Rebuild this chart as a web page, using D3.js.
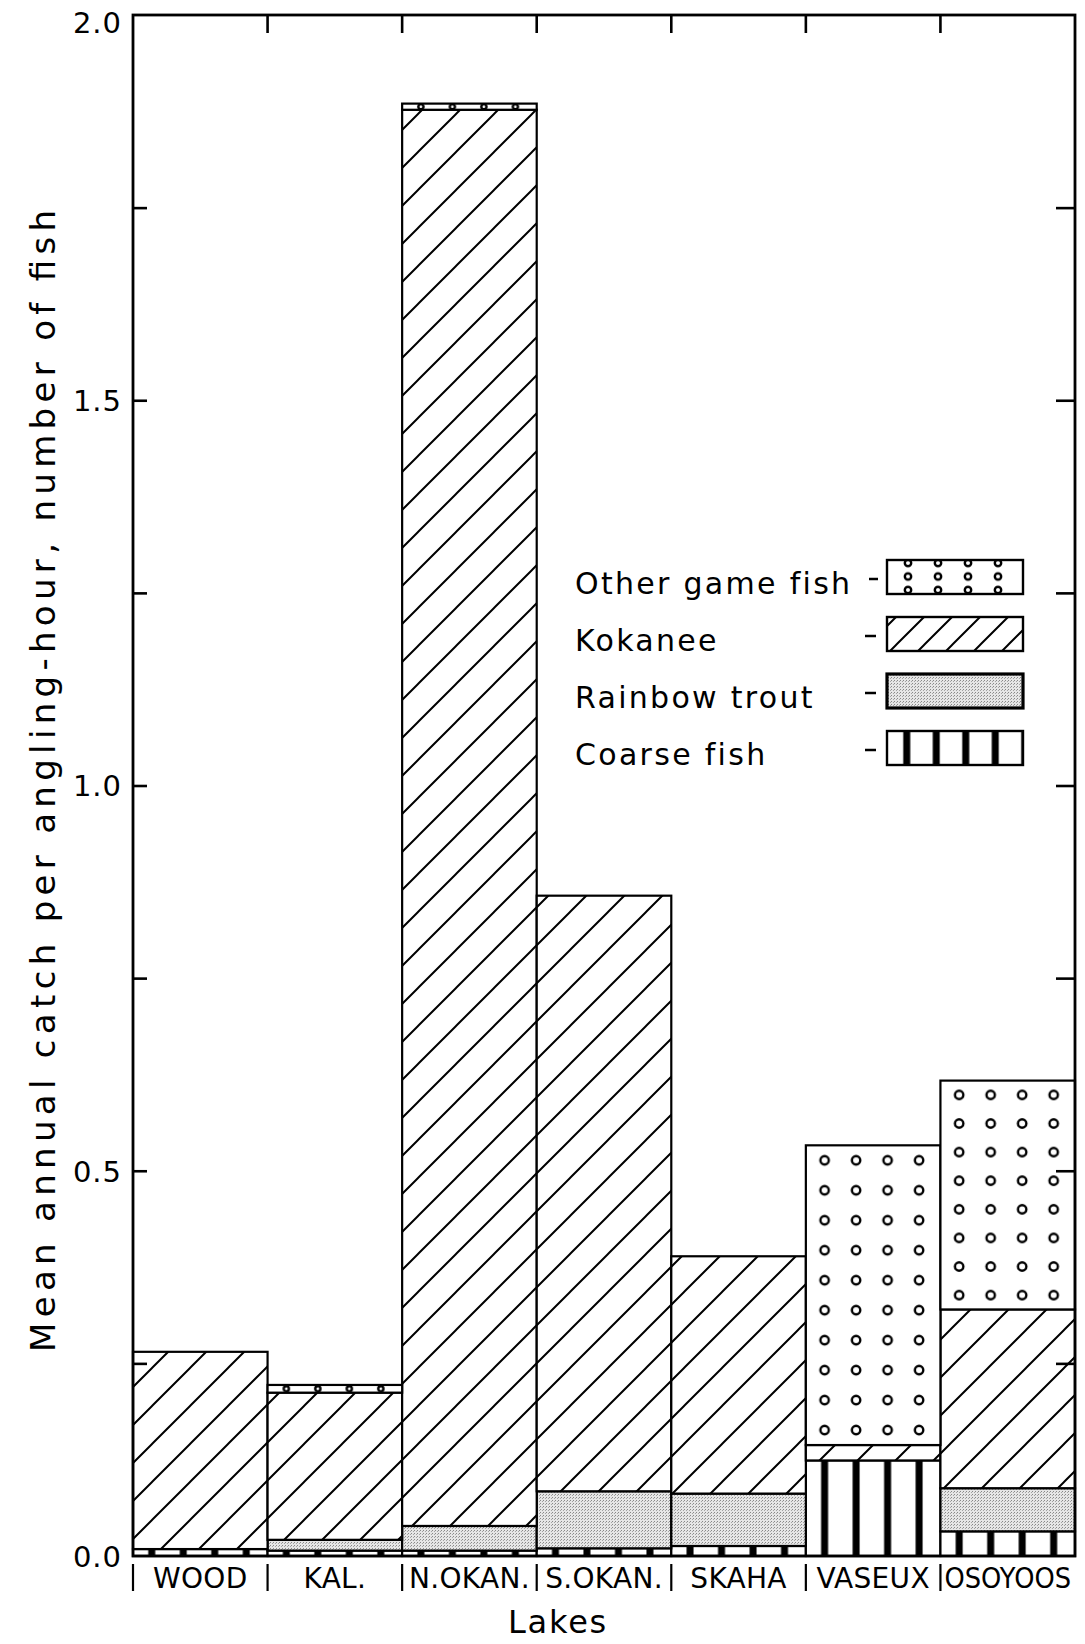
<!DOCTYPE html>
<html><head><meta charset="utf-8">
<script src="https://cdn.jsdelivr.net/npm/d3@7"></script>
<style>html,body{margin:0;padding:0;background:#fff}svg{display:block}</style>
</head><body>
<svg id="chart" width="1085" height="1644"></svg>
<script>
// ---------------- data ----------------
const categories = ["WOOD", "KAL.", "N.OKAN.", "S.OKAN.", "SKAHA", "VASEUX", "OSOYOOS"];
const coarseFish    = [0.009, 0.007, 0.007, 0.010, 0.013, 0.124, 0.032];
const rainbowTrout  = [0.000, 0.014, 0.032, 0.074, 0.068, 0.000, 0.056];
const kokanee       = [0.256, 0.191, 1.838, 0.773, 0.308, 0.020, 0.232];
const otherGameFish = [0.000, 0.010, 0.008, 0.000, 0.000, 0.389, 0.297];
const seriesKeys = ["coarse", "rainbow", "kokanee", "other"];
const legendKeys = ["other", "kokanee", "rainbow", "coarse"];
const legendLabels = ["Other game fish", "Kokanee", "Rainbow trout", "Coarse fish"];
const yLabelTicks = [0, 0.5, 1.0, 1.5, 2.0];
const yMinorTicks = [0.25, 0.5, 0.75, 1.0, 1.25, 1.5, 1.75];
const yAxisTitle = "Mean annual catch per angling-hour, number of fish";
const xAxisTitle = "Lakes";

// ---------------- layout ----------------
const FONT = "DejaVu Sans, Liberation Sans, sans-serif";
const pLeft = 133, pRight = 1075, pTop = 15, pBottom = 1556;
const svg = d3.select("#chart");
const x = d3.scaleBand().domain(categories).range([pLeft, pRight]).padding(0);
const y = d3.scaleLinear().domain([0, 2]).range([pBottom, pTop]);
const bw = x.bandwidth();

const table = categories.map((c, i) => ({
  lake: c, coarse: coarseFish[i], rainbow: rainbowTrout[i],
  kokanee: kokanee[i], other: otherGameFish[i]
}));
const layers = d3.stack().keys(seriesKeys)(table);

svg.append("rect").attr("width", 1085).attr("height", 1644).attr("fill", "#fff");
const defs = svg.append("defs");

// kokanee hatch
function hatch(id, s) {
  const p = defs.append("pattern").attr("id", id).attr("patternUnits", "userSpaceOnUse")
    .attr("width", s).attr("height", s);
  p.append("rect").attr("width", s).attr("height", s).attr("fill", "#fff");
  p.append("path").attr("d", `M-4,4 L4,-4 M0,${s} L${s},0 M${s-4},${s+4} L${s+4},${s-4}`)
    .attr("stroke", "#000").attr("stroke-width", 2);
}
hatch("hatch", 38);
hatch("hatchLeg", 28);

// rainbow stipple
{
  const p = defs.append("pattern").attr("id", "stipple").attr("patternUnits", "userSpaceOnUse")
    .attr("width", 3).attr("height", 3);
  p.append("rect").attr("width", 3).attr("height", 3).attr("fill", "#e6e6e6");
  p.append("rect").attr("x", 0).attr("y", 0).attr("width", 1).attr("height", 1).attr("fill", "#888");
  p.append("rect").attr("x", 2).attr("y", 1).attr("width", 1).attr("height", 1).attr("fill", "#a4a4a4");
}

function circlePattern(id, px, py, w, h, r) {
  const p = defs.append("pattern").attr("id", id).attr("patternUnits", "userSpaceOnUse")
    .attr("x", px).attr("y", py).attr("width", w).attr("height", h);
  p.append("rect").attr("width", w).attr("height", h).attr("fill", "#fff");
  p.append("circle").attr("cx", w / 2).attr("cy", h / 2).attr("r", r)
    .attr("fill", "#fff").attr("stroke", "#000").attr("stroke-width", 2.4);
}
function stripePattern(id, px, w, sw) {
  const p = defs.append("pattern").attr("id", id).attr("patternUnits", "userSpaceOnUse")
    .attr("x", px).attr("y", 0).attr("width", w).attr("height", 10);
  p.append("rect").attr("width", w).attr("height", 10).attr("fill", "#fff");
  p.append("rect").attr("x", w / 2 - sw / 2).attr("width", sw).attr("height", 10).attr("fill", "#000");
}

// per-bar patterns for other game fish & coarse fish
const otherLayer = layers.find(l => l.key === "other");
categories.forEach((c, i) => {
  const d = otherLayer[i];
  const yt = y(d[1]), h = Math.max(1, y(d[0]) - y(d[1]));
  const rows = Math.max(1, Math.round(h / 29.5));
  circlePattern(`other-${i}`, x(c) + 3, yt, 31.5, h / rows, h > 15 ? 4.2 : 2.6);
  stripePattern(`coarse-${i}`, x(c) + 3, 31.5, 7);
});

function fillFor(key, i) {
  if (key === "kokanee") return "url(#hatch)";
  if (key === "rainbow") return "url(#stipple)";
  if (key === "other") return `url(#other-${i})`;
  return `url(#coarse-${i})`;
}

// ---------------- bars ----------------
const gBars = svg.append("g");
layers.forEach(layer => {
  gBars.selectAll(null)
    .data(layer.map((d, i) => ({ d, i, key: layer.key })).filter(o => o.d[1] - o.d[0] > 0))
    .join("rect")
    .attr("x", o => x(categories[o.i]))
    .attr("y", o => y(o.d[1]))
    .attr("width", bw)
    .attr("height", o => y(o.d[0]) - y(o.d[1]))
    .attr("fill", o => fillFor(o.key, o.i))
    .attr("stroke", "#000")
    .attr("stroke-width", 2.2);
});

// ---------------- frame & ticks ----------------
svg.append("rect").attr("x", pLeft).attr("y", pTop).attr("width", pRight - pLeft).attr("height", pBottom - pTop)
  .attr("fill", "none").attr("stroke", "#000").attr("stroke-width", 2.8);

const leftTicks = svg.append("g").attr("transform", `translate(${pLeft},0)`)
  .call(d3.axisRight(y).tickValues(yMinorTicks).tickSize(14).tickFormat(""));
const rightTicks = svg.append("g").attr("transform", `translate(${pRight},0)`)
  .call(d3.axisLeft(y).tickValues(yMinorTicks).tickSize(19).tickFormat(""));
[leftTicks, rightTicks].forEach(g => {
  g.select(".domain").remove();
  g.selectAll("line").attr("stroke", "#000").attr("stroke-width", 2.6);
});

// y labels
const yLab = svg.append("g").attr("transform", `translate(${pLeft},0)`)
  .call(d3.axisLeft(y).tickValues(yLabelTicks).tickSize(0).tickPadding(11).tickFormat(d3.format(".1f")));
yLab.select(".domain").remove();
yLab.selectAll("text").attr("font-size", 29).attr("font-family", FONT).attr("fill", "#000")
  .attr("letter-spacing", 1)
  .attr("dy", d => d === 2 ? "0.62em" : "0.36em");

// top ticks at lake boundaries
svg.append("g").selectAll("line").data(categories.slice(1)).join("line")
  .attr("x1", c => x(c)).attr("x2", c => x(c))
  .attr("y1", pTop).attr("y2", pTop + 18)
  .attr("stroke", "#000").attr("stroke-width", 2.6);

// bottom separators
svg.append("g").selectAll("line").data(categories).join("line")
  .attr("x1", c => x(c)).attr("x2", c => x(c))
  .attr("y1", pBottom + 8).attr("y2", pBottom + 35)
  .attr("stroke", "#000").attr("stroke-width", 2.2);

// category labels
const xLab = svg.append("g").attr("transform", `translate(0,${pBottom})`)
  .call(d3.axisBottom(x).tickSize(0).tickPadding(12));
xLab.select(".domain").remove();
xLab.selectAll("text").attr("font-size", 28).attr("font-family", FONT).attr("fill", "#000")
  .attr("letter-spacing", 0.3)
  .each(function () {
    const len = this.getComputedTextLength();
    if (len > bw - 8) {
      d3.select(this).attr("letter-spacing", 0)
        .attr("textLength", bw - 8).attr("lengthAdjust", "spacingAndGlyphs");
    }
  });

// axis titles
svg.append("text")
  .attr("transform", `translate(55,781) rotate(-90)`)
  .attr("text-anchor", "middle")
  .attr("font-size", 34).attr("font-family", FONT)
  .attr("textLength", 1142).attr("lengthAdjust", "spacing")
  .text(yAxisTitle);

svg.append("text")
  .attr("x", 558).attr("y", 1633)
  .attr("text-anchor", "middle")
  .attr("font-size", 32).attr("font-family", FONT).attr("letter-spacing", 1.8)
  .text(xAxisTitle);

// ---------------- legend ----------------
const legX = 887, legW = 136, legH = 34, legTop = 560, legStep = 57;
circlePattern("otherLeg", legX + 6, legTop + 3.25, 30, 13.5, 3.2);
stripePattern("coarseLeg", legX + 5, 29.5, 7);
const legFill = { other: "url(#otherLeg)", kokanee: "url(#hatchLeg)", rainbow: "url(#stipple)", coarse: "url(#coarseLeg)" };

const leg = svg.append("g").selectAll("g").data(legendKeys).join("g")
  .attr("transform", (k, i) => `translate(0,${legTop + i * legStep})`);
leg.append("rect").attr("x", legX).attr("y", 0).attr("width", legW).attr("height", legH)
  .attr("fill", k => legFill[k]).attr("stroke", "#000")
  .attr("stroke-width", k => k === "rainbow" ? 3.2 : 2.4);
leg.append("line").attr("x1", (k, i) => i === 0 ? 869 : 865).attr("x2", (k, i) => i === 0 ? 878 : 876)
  .attr("y1", 19).attr("y2", 19)
  .attr("stroke", "#000").attr("stroke-width", 2.5);
leg.append("text").attr("x", 575).attr("y", 34)
  .attr("font-size", 30).attr("font-family", FONT).attr("letter-spacing", 2.3)
  .text((k, i) => legendLabels[i]);
</script>
</body></html>
